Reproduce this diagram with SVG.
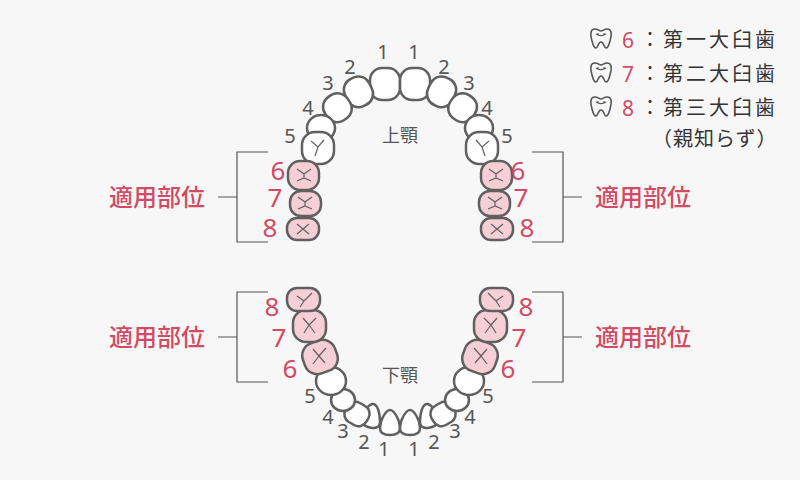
<svg xmlns="http://www.w3.org/2000/svg" width="800" height="480" viewBox="0 0 800 480">
<style>
.t{fill:#fff;stroke:#606060;stroke-width:2.5}
.m{fill:#f6cfd6;stroke:#606060;stroke-width:2.5}
.g{fill:none;stroke:#606060;stroke-width:1.2}
.n{font-family:"Noto Sans","Noto Sans CJK JP",sans-serif;font-size:20px;fill:#555;text-anchor:middle}
.r{font-family:"Noto Sans","Noto Sans CJK JP",sans-serif;font-size:26px;fill:#d24a63;text-anchor:middle}
.lb{font-family:"Noto Sans CJK JP",sans-serif;font-size:24px;font-weight:500;fill:#d24a63;text-anchor:middle}
.j{font-family:"Noto Sans CJK JP",sans-serif;font-size:18px;fill:#555;text-anchor:middle}
.k{font-family:"Noto Sans CJK JP",sans-serif;font-size:20px;fill:#333;letter-spacing:3px}
.br{fill:none;stroke:#555;stroke-width:1.2}
</style>
<defs>
<g id="molar"><path class="g" d="M-7,-6 L0,-1 L7,-6 M0,-1 L0,3 M-7,6 L0,3 L7,6"/></g>
<g id="icon"><path d="M-6,-9 C-11,-9 -11,-3 -9,3 C-8,7 -7,10 -5,10 C-3,10 -3,4 0,4 C3,4 3,10 5,10 C7,10 8,7 9,3 C11,-3 11,-9 6,-9 C3,-9 2,-7 0,-7 C-2,-7 -3,-9 -6,-9Z" fill="none" stroke="#555" stroke-width="1.6"/><path d="M-5,-4 C-2,-2 2,-2 5,-4 M-3,-5 v2 M3,-5 v2" fill="none" stroke="#555" stroke-width="1.2"/></g>
<g id="ul">
<rect class="t" x="370" y="68" width="30" height="32" rx="12"/>
<rect class="t" x="345" y="77" width="27" height="30" rx="12" transform="rotate(-25 358 92)"/>
<rect class="t" x="324" y="94" width="27" height="28" rx="12" transform="rotate(-35 337 108)"/>
<ellipse class="t" cx="321" cy="128" rx="14" ry="13"/>
<rect class="t" x="302" y="132" width="32" height="32" rx="13"/>
<path class="g" d="M311,141 L318,147 L324,140 M318,147 L315,156"/>
<rect class="m" x="288" y="161" width="31" height="29" rx="12"/>
<use href="#molar" x="304" y="175"/>
<rect class="m" x="290" y="191" width="31" height="25" rx="11"/>
<use href="#molar" x="305" y="203"/>
<rect class="m" x="287" y="218" width="32" height="22" rx="10"/>
<path class="g" d="M297,224 l12,10 M309,224 l-12,10"/>
</g>
<g id="ll">
<path class="t" d="M390,410 C394,410 400,420 400,428 C400,434 394,435 390,435 C385,435 380,434 380,428 C380,420 386,410 390,410Z"/>
<path class="t" d="M372,404 C377,403 380,412 380,422 C380,428 374,429 368,427 C362,425 360,420 364,414 C366,409 368,405 372,404Z"/>
<rect class="t" x="345" y="403" width="24" height="22" rx="9" transform="rotate(30 357 414)"/>
<ellipse class="t" cx="343" cy="400" rx="12" ry="11"/>
<ellipse class="t" cx="331" cy="381" rx="15" ry="14"/>
<rect class="m" x="303" y="341" width="34" height="32" rx="13" transform="rotate(-20 320 357)"/>
<path class="g" d="M313,349 L319,356 L326,348 M319,356 L313,364 M319,356 L325,363"/>
<rect class="m" x="293" y="310" width="33" height="32" rx="13"/>
<path class="g" d="M303,318 L309,325 L316,318 M309,325 L304,333 M309,325 L315,333"/>
<rect class="m" x="287" y="288" width="33" height="23" rx="10"/>
<path class="g" d="M297,296 L304,301 L312,293 M304,301 L300,307"/>
</g>
</defs>
<rect width="800" height="480" fill="#f7f7f7"/>
<g id="upper">
<use id="u-left" href="#ul"/>
<use id="u-right" href="#ul" transform="translate(800 0) scale(-1 1)"/>
<text class="j" x="400" y="142">上顎</text>
</g>
<g id="lower">
<use id="l-left" href="#ll"/>
<use id="l-right" href="#ll" transform="translate(800 0) scale(-1 1)"/>
<text class="j" x="400" y="382">下顎</text>
</g>
<g id="numbers">
<text class="n" x="383" y="59">1</text><text class="n" x="414" y="59">1</text>
<text class="n" x="350" y="74">2</text><text class="n" x="444" y="74">2</text>
<text class="n" x="328" y="90">3</text><text class="n" x="469" y="90">3</text>
<text class="n" x="308" y="115">4</text><text class="n" x="487" y="115">4</text>
<text class="n" x="290" y="143">5</text><text class="n" x="507" y="143">5</text>
<text class="r" x="278" y="180">6</text><text class="r" x="518" y="180">6</text>
<text class="r" x="275" y="207">7</text><text class="r" x="521" y="207">7</text>
<text class="r" x="270" y="237">8</text><text class="r" x="527" y="237">8</text>
<text class="r" x="272" y="316">8</text><text class="r" x="526" y="316">8</text>
<text class="r" x="279" y="347">7</text><text class="r" x="519" y="347">7</text>
<text class="r" x="290" y="378">6</text><text class="r" x="508" y="378">6</text>
<text class="n" x="310" y="403">5</text><text class="n" x="488" y="403">5</text>
<text class="n" x="328" y="424">4</text><text class="n" x="470" y="424">4</text>
<text class="n" x="343" y="438">3</text><text class="n" x="455" y="438">3</text>
<text class="n" x="364" y="449">2</text><text class="n" x="434" y="449">2</text>
<text class="n" x="384" y="456">1</text><text class="n" x="414" y="456">1</text>
</g>
<g id="connectors">
<path class="br" d="M268,152 H237 V242 H268 M237,197 H218"/>
<path class="br" d="M532,152 H563 V242 H532 M563,197 H582"/>
<path class="br" d="M268,292 H237 V382 H268 M237,337 H218"/>
<path class="br" d="M532,292 H563 V382 H532 M563,337 H582"/>
</g>
<g id="labels">
<text class="lb" x="157" y="206">適用部位</text>
<text class="lb" x="643" y="206">適用部位</text>
<text class="lb" x="157" y="346">適用部位</text>
<text class="lb" x="643" y="346">適用部位</text>
</g>
<g id="legend">
<use href="#icon" x="601" y="38"/>
<use href="#icon" x="601" y="72"/>
<use href="#icon" x="601" y="106"/>
<text class="r" x="628" y="48" style="font-size:21px">6</text>
<text class="r" x="628" y="82" style="font-size:21px">7</text>
<text class="r" x="628" y="116" style="font-size:21px">8</text>
<text class="k" x="640" y="47">：第一大臼歯</text>
<text class="k" x="640" y="81">：第二大臼歯</text>
<text class="k" x="640" y="115">：第三大臼歯</text>
<text class="k" x="652" y="146" style="letter-spacing:1px">（親知らず）</text>
</g>
</svg>
